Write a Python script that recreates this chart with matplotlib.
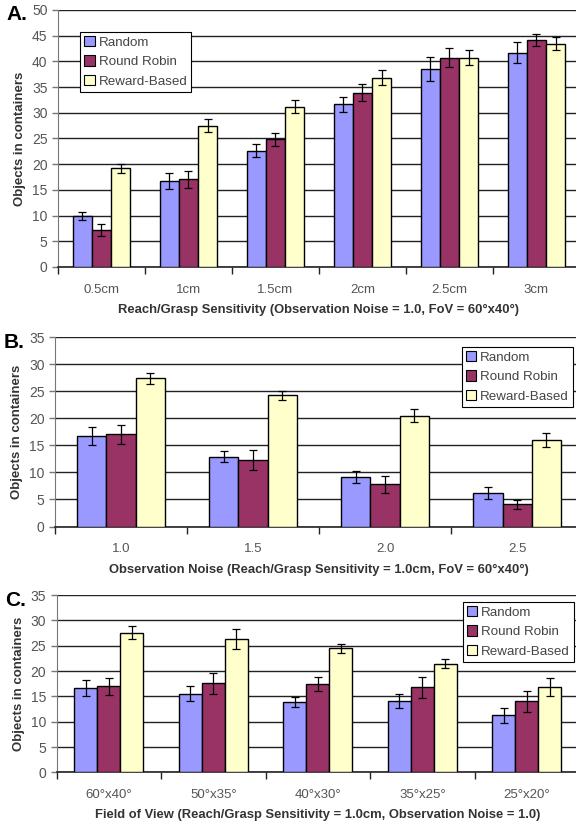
import numpy as np
import matplotlib.pyplot as plt
from matplotlib.patches import Patch
from matplotlib.transforms import offset_copy

plt.rcParams['font.family'] = ['Liberation Sans', 'DejaVu Sans']

series_names = ['Random', 'Round Robin', 'Reward-Based']
series_colors = ['#9999FF', '#993366', '#FFFFCC']

# Panel A: reach/grasp sensitivity sweep
reach_labels = ['0.5cm', '1cm', '1.5cm', '2cm', '2.5cm', '3cm']
reach_random = [9.9, 16.7, 22.6, 31.6, 38.5, 41.7]
reach_robin = [7.2, 17.1, 24.8, 33.9, 40.7, 44.1]
reach_reward = [19.2, 27.5, 31.2, 36.8, 40.7, 43.4]
reach_random_err = [0.8, 1.55, 1.3, 1.5, 2.4, 2.0]
reach_robin_err = [1.1, 1.65, 1.2, 1.7, 1.85, 1.2]
reach_reward_err = [0.9, 1.2, 1.35, 1.45, 1.5, 1.25]

# Panel B: observation noise sweep
noise_labels = ['1.0', '1.5', '2.0', '2.5']
noise_random = [16.7, 12.9, 9.2, 6.2]
noise_robin = [17.0, 12.3, 7.8, 4.1]
noise_reward = [27.4, 24.2, 20.5, 16.0]
noise_random_err = [1.6, 1.0, 1.1, 1.1]
noise_robin_err = [1.7, 1.85, 1.55, 0.85]
noise_reward_err = [1.0, 0.8, 1.15, 1.25]

# Panel C: field of view sweep
fov_labels = ['60°x40°', '50°x35°', '40°x30°', '35°x25°', '25°x20°']
fov_random = [16.6, 15.5, 13.9, 14.0, 11.25]
fov_robin = [17.0, 17.6, 17.4, 16.8, 14.0]
fov_reward = [27.6, 26.3, 24.5, 21.4, 16.8]
fov_random_err = [1.6, 1.45, 1.0, 1.4, 1.5]
fov_robin_err = [1.7, 2.1, 1.4, 2.05, 2.0]
fov_reward_err = [1.3, 1.9, 0.9, 0.9, 1.75]

TICK_GRAY = '#555555'
LABEL_GRAY = '#333333'


def draw_panel(fig, ax, labels, values, errors, ymax, xlabel, letter,
               legend_loc, legend_anchor):
    n = len(labels)
    x = np.arange(n)
    width = 0.22
    for k, (vals, errs) in enumerate(zip(values, errors)):
        ax.bar(x + (k - 1) * width, vals, width, color=series_colors[k],
               edgecolor='black', linewidth=1.0, zorder=3,
               yerr=errs, capsize=3,
               error_kw=dict(ecolor='black', elinewidth=0.9, capthick=0.9, zorder=4))

    ax.set_xlim(-0.5, n - 0.5)
    ax.set_ylim(0, ymax)
    ax.set_yticks(np.arange(0, ymax + 1, 5))
    ax.yaxis.grid(True, color='#222222', linewidth=1.0, zorder=0)
    ax.set_axisbelow(True)

    # tick marks sit between categories, labels at category centres
    ax.set_xticks(np.arange(n + 1) - 0.5)
    ax.set_xticklabels([])
    ax.set_xticks(x, minor=True)
    ax.set_xticklabels(labels, minor=True)
    ax.tick_params(axis='x', which='major', length=5, width=1, color='#222222')
    ax.tick_params(axis='x', which='minor', length=0, pad=12,
                   labelsize=9.5, labelcolor=TICK_GRAY)
    ax.tick_params(axis='y', length=4, width=1, color='#777777',
                   labelsize=10, labelcolor=TICK_GRAY)

    for side in ('top', 'right'):
        ax.spines[side].set_visible(False)
    ax.spines['left'].set_color('#777777')
    ax.spines['bottom'].set_color('#222222')
    ax.spines['bottom'].set_linewidth(1.2)

    ax.set_ylabel('Objects in containers', fontsize=9.5, fontweight='bold',
                  color=LABEL_GRAY, labelpad=4)
    ax.set_xlabel(xlabel, fontsize=9.4, fontweight='bold', color=LABEL_GRAY,
                  labelpad=6)
    letter_tr = offset_copy(ax.transAxes, fig=fig, x=0, y=-5, units='dots')
    ax.text(-0.098, 1.0, letter, transform=letter_tr, fontsize=15,
            fontweight='bold', ha='left', va='center')

    handles = [Patch(facecolor=c, edgecolor='black', linewidth=0.8)
               for c in series_colors]
    leg = ax.legend(handles, series_names, loc=legend_loc,
                    bbox_to_anchor=legend_anchor, bbox_transform=fig.transFigure,
                    fontsize=9.6, fancybox=False, framealpha=1, edgecolor='black',
                    handlelength=0.8, handleheight=0.8, handletextpad=0.3,
                    borderpad=0.3, labelspacing=0.5, borderaxespad=0)
    leg.get_frame().set_linewidth(0.8)
    for t in leg.get_texts():
        t.set_color('#444444')


fig = plt.figure(figsize=(5.76, 8.24), dpi=100)

ax_a = fig.add_axes([0.1007, 0.676, 0.906, 0.312])
draw_panel(fig, ax_a, reach_labels,
           [reach_random, reach_robin, reach_reward],
           [reach_random_err, reach_robin_err, reach_reward_err],
           50, 'Reach/Grasp Sensitivity (Observation Noise = 1.0, FoV = 60°x40°)',
           'A.', 'upper left', (80 / 576, 1 - 32 / 824))

ax_b = fig.add_axes([0.0955, 0.361, 0.9167, 0.230])
draw_panel(fig, ax_b, noise_labels,
           [noise_random, noise_robin, noise_reward],
           [noise_random_err, noise_robin_err, noise_reward_err],
           35, 'Observation Noise (Reach/Grasp Sensitivity = 1.0cm, FoV = 60°x40°)',
           'B.', 'upper right', (573 / 576, 1 - 347 / 824))

ax_c = fig.add_axes([0.0984, 0.0627, 0.907, 0.2152])
draw_panel(fig, ax_c, fov_labels,
           [fov_random, fov_robin, fov_reward],
           [fov_random_err, fov_robin_err, fov_reward_err],
           35, 'Field of View (Reach/Grasp Sensitivity = 1.0cm, Observation Noise = 1.0)',
           'C.', 'upper right', (574 / 576, 1 - 602 / 824))

fig.savefig('out.png', dpi=100, facecolor='white')
